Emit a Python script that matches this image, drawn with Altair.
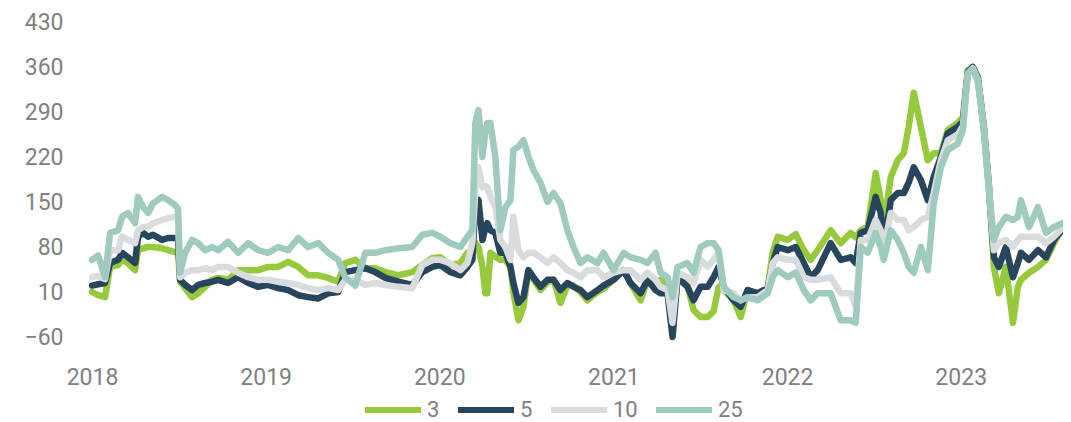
import altair as alt
import pandas as pd

# time axis in decimal years
years = [
    2018.000, 2018.035, 2018.075, 2018.104, 2018.150, 2018.173, 2018.207, 2018.248, 2018.265, 2018.294,
    2018.323, 2018.351, 2018.403, 2018.438, 2018.478, 2018.495, 2018.507, 2018.536, 2018.576, 2018.611,
    2018.651, 2018.691, 2018.726, 2018.783, 2018.841, 2018.899, 2018.956, 2019.014, 2019.071, 2019.129,
    2019.187, 2019.244, 2019.302, 2019.359, 2019.417, 2019.457, 2019.515, 2019.573, 2019.630, 2019.688,
    2019.763, 2019.843, 2019.901, 2019.959, 2020.005, 2020.062, 2020.120, 2020.160, 2020.189, 2020.206,
    2020.224, 2020.247, 2020.264, 2020.275, 2020.293, 2020.321, 2020.350, 2020.379, 2020.408, 2020.425,
    2020.454, 2020.483, 2020.512, 2020.540, 2020.581, 2020.621, 2020.656, 2020.696, 2020.736, 2020.771,
    2020.811, 2020.851, 2020.909, 2020.944, 2021.001, 2021.059, 2021.099, 2021.157, 2021.197, 2021.243,
    2021.272, 2021.312, 2021.341, 2021.370, 2021.427, 2021.462, 2021.502, 2021.543, 2021.577, 2021.606,
    2021.635, 2021.692, 2021.733, 2021.773, 2021.831, 2021.888, 2021.917, 2021.946, 2022.003, 2022.050,
    2022.096, 2022.136, 2022.176, 2022.251, 2022.309, 2022.366, 2022.395, 2022.424, 2022.464, 2022.510,
    2022.539, 2022.556, 2022.597, 2022.637, 2022.672, 2022.700, 2022.729, 2022.770, 2022.810, 2022.844,
    2022.885, 2022.925, 2022.983, 2023.012, 2023.040, 2023.069, 2023.098, 2023.132, 2023.161, 2023.190,
    2023.219, 2023.259, 2023.300, 2023.328, 2023.346, 2023.392, 2023.444, 2023.490, 2023.536, 2023.593,
]

s3 = [
    10, 5, 2, 49, 52, 60, 55, 44, 75, 78,
    80, 80, 78, 75, 72, 72, 26, 16, 2, 8,
    18, 29, 32, 29, 44, 44, 44, 49, 49, 57,
    49, 36, 36, 32, 26, 55, 60, 47, 47, 41,
    36, 41, 52, 63, 64, 52, 55, 71, 70, 86,
    80, 49, 8, 8, 71, 65, 60, 60, 49, 10,
    -34, -13, 44, 30, 13, 25, 29, -7, 20, 20,
    10, -3, 10, 15, 29, 44, 24, -3, 29, 13,
    29, 20, -54, 33, 20, -18, -29, -29, -20, 18,
    13, -3, -29, 13, 8, 16, 71, 96, 91, 100,
    75, 60, 75, 106, 86, 102, 95, 106, 111, 195,
    153, 111, 189, 215, 226, 267, 320, 267, 215, 226,
    226, 262, 273, 282, 355, 360, 345, 270, 180, 49,
    8, 49, -38, 18, 29, 40, 49, 60, 86, 115,
]

s5 = [
    20, 22, 24, 55, 60, 71, 64, 55, 96, 102,
    96, 99, 91, 94, 94, 94, 29, 21, 13, 21,
    24, 26, 29, 24, 33, 24, 18, 21, 16, 13,
    5, 2, 0, 8, 10, 41, 44, 47, 41, 32,
    26, 21, 41, 49, 52, 41, 36, 49, 60, 148,
    153, 91, 110, 117, 106, 102, 71, 71, 49, 24,
    -7, 2, 44, 33, 18, 29, 29, 13, 24, 18,
    13, 2, 13, 20, 29, 44, 24, 8, 29, 13,
    8, 8, -60, 33, 18, -3, 18, 18, 33, 49,
    18, -3, -13, 13, 8, 16, 55, 80, 75, 80,
    55, 33, 44, 86, 60, 64, 55, 102, 106, 158,
    133, 80, 153, 164, 164, 180, 204, 184, 153, 189,
    220, 257, 267, 275, 352, 360, 342, 267, 175, 64,
    49, 80, 33, 55, 71, 60, 75, 64, 91, 110,
]

s10 = [
    33, 35, 30, 75, 75, 96, 91, 86, 106, 111,
    111, 117, 122, 125, 127, 127, 33, 40, 44, 44,
    47, 44, 49, 49, 40, 33, 29, 29, 26, 24,
    21, 16, 13, 16, 13, 29, 29, 21, 24, 21,
    18, 16, 52, 60, 60, 55, 44, 55, 86, 169,
    204, 173, 175, 173, 158, 142, 91, 80, 60, 127,
    75, 64, 71, 71, 64, 55, 64, 55, 44, 40,
    33, 44, 44, 33, 40, 44, 44, 29, 40, 29,
    18, 13, -38, 40, 33, 24, 60, 49, 60, 71,
    13, 8, -3, 2, 2, 13, 55, 64, 60, 60,
    33, 29, 29, 33, 8, 8, -13, 91, 91, 122,
    106, 75, 133, 122, 122, 106, 111, 122, 127, 164,
    215, 246, 255, 268, 350, 358, 340, 265, 173, 75,
    86, 91, 80, 91, 96, 96, 96, 86, 96, 112,
]

s25 = [
    60, 67, 33, 102, 106, 127, 133, 117, 158, 142,
    133, 148, 158, 153, 145, 140, 40, 71, 91, 86,
    75, 80, 75, 88, 71, 86, 75, 71, 80, 75,
    94, 80, 86, 71, 60, 33, 20, 71, 71, 75,
    78, 80, 99, 102, 96, 86, 80, 96, 106, 273,
    293, 220, 260, 273, 273, 220, 106, 142, 153, 231,
    236, 246, 220, 200, 180, 150, 164, 148, 106, 80,
    55, 64, 55, 71, 44, 71, 64, 60, 55, 71,
    40, 33, 2, 49, 55, 40, 80, 86, 86, 75,
    18, 2, -3, 2, -3, 8, 33, 44, 33, 40,
    13, -3, 8, 8, -34, -34, -38, 80, 71, 102,
    80, 60, 106, 91, 71, 49, 40, 80, 44, 148,
    204, 231, 241, 262, 350, 356, 338, 262, 170, 91,
    111, 127, 122, 127, 153, 111, 142, 102, 111, 118,
]

series_names = ["3", "5", "10", "25"]
series_values = [s3, s5, s10, s25]
colors = ["#97c93d", "#27455c", "#d9dcdf", "#9fcabf"]
y_ticks = [-60, 10, 80, 150, 220, 290, 360, 430]
x_tick_years = [2018, 2019, 2020, 2021, 2022, 2023]

base_date = pd.Timestamp("2018-01-01")
dates = [base_date + pd.to_timedelta((y - 2018) * 365.25, unit="D") for y in years]

rows = []
for k, (name, vals) in enumerate(zip(series_names, series_values)):
    for d, v in zip(dates, vals):
        rows.append({"date": d, "series": name, "value": v, "rank": k})
df = pd.DataFrame(rows)

FONT = "Roboto"
TEXT = "#808080"

chart = (
    alt.Chart(df)
    .mark_line(strokeWidth=6.5, strokeCap="round", strokeJoin="round")
    .encode(
        x=alt.X(
            "date:T",
            scale=alt.Scale(domain=["2018-01-01T00:00:00", "2023-08-04T00:00:00"]),
            axis=alt.Axis(
                values=[f"{y}-01-01T00:00:00" for y in x_tick_years],
                format="%Y", title=None, grid=False, domain=False, ticks=False,
                labelFont=FONT, labelFontSize=23, labelColor=TEXT, labelPadding=29,
                labelFlush=False,
            ),
        ),
        y=alt.Y(
            "value:Q",
            scale=alt.Scale(domain=[-60, 430], nice=False, zero=False),
            axis=alt.Axis(
                values=y_ticks, title=None, grid=False, domain=False, ticks=False,
                labelFont=FONT, labelFontSize=23, labelColor=TEXT, labelPadding=29,
            ),
        ),
        color=alt.Color(
            "series:N",
            scale=alt.Scale(domain=series_names, range=colors),
            sort=series_names,
            legend=alt.Legend(
                title=None, orient="none", direction="horizontal",
                legendX=270, legendY=357,
                symbolType="stroke", symbolStrokeWidth=6, symbolSize=3136,
                labelFont=FONT, labelFontSize=22, labelColor=TEXT,
                labelOffset=3, columnPadding=6,
            ),
        ),
        order=alt.Order("rank:Q"),
    )
    .properties(
        width=971, height=315,
        autosize=alt.AutoSizeParams(type="none"),
        padding={"left": 84, "top": 14, "right": 0, "bottom": 85},
    )
    .configure_view(stroke="transparent", strokeWidth=0)
)

chart.save("out.html", embed_options={"renderer": "svg", "actions": False})
